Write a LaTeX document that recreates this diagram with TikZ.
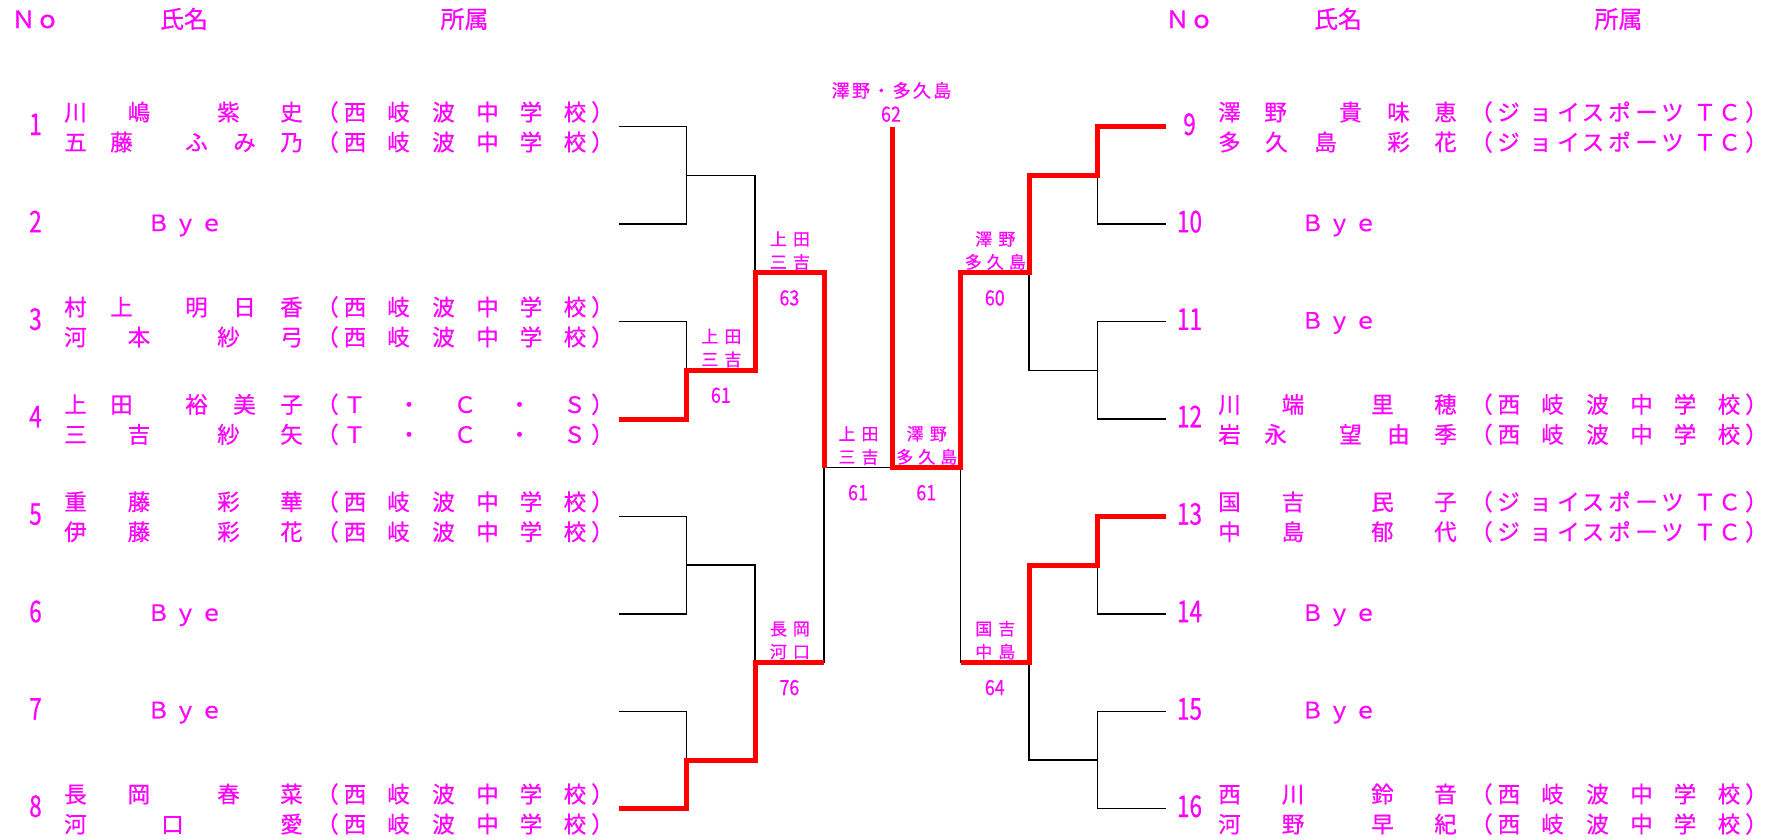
\documentclass[tikz,border=0pt]{standalone}
\usepackage{fontspec}
\newfontfamily\jpf[FakeBold=0.6]{Noto Sans CJK JP}
\newfontfamily\jpnum[FakeStretch=0.75,FakeBold=0.5]{Noto Sans CJK JP}
\newfontfamily\jpsc[FakeStretch=0.85,FakeBold=0.4]{Noto Sans CJK JP}
\definecolor{mag}{RGB}{255,0,255}
\definecolor{wred}{RGB}{255,0,0}
\newcommand\glp[2]{\makebox[0pt][l]{\hspace*{#1pt}\makebox[0pt][c]{#2}}}
\newcommand\nfour[4]{\glp{75}{#1}\glp{138.5}{#2}\glp{228}{#3}\glp{291}{#4}}
\newcommand\nfive[5]{\glp{75}{#1}\glp{121}{#2}\glp{196}{#3}\glp{244}{#4}\glp{291}{#5}}
\newcommand\affS{\glp{327}{（}\glp{354.5}{西}\glp{398}{岐}\glp{443}{波}\glp{487}{中}\glp{530.5}{学}\glp{574.5}{校}\glp{602}{）}}
\newcommand\affT{\glp{327}{（}\glp{354}{Ｔ}\glp{408.5}{・}\glp{464.5}{Ｃ}\glp{519}{・}\glp{574}{Ｓ}\glp{602}{）}}
\newcommand\affJ{\glp{327}{（}\glp{354}{ジ}\glp{386}{ョ}\glp{414}{イ}\glp{438.5}{ス}\glp{465}{ポ}\glp{492}{ー}\glp{518}{ツ}\glp{550.5}{Ｔ}\glp{575}{Ｃ}\glp{602}{）}}
\newcommand\byeL{\glp{158}{Ｂ}\glp{185}{ｙ}\glp{211}{ｅ}}
\newcommand\lpair[2]{\glp{-11.5}{#1}\glp{11.5}{#2}}
\newcommand\ltrip[3]{\glp{-22}{#1}\glp{0}{#2}\glp{22}{#3}}
\begin{document}
\begin{tikzpicture}[x=1pt,y=-1pt,
  txt/.style={inner sep=0pt,outer sep=0pt,text=mag,anchor=base west},
  nm/.style={txt,font={\jpf\fontsize{22.5pt}{22.5pt}\selectfont}},
  hd/.style={txt,anchor=base,font={\jpf\fontsize{24pt}{24pt}\selectfont}},
  pn/.style={inner sep=0pt,text=mag,anchor=base,font={\jpnum\fontsize{30pt}{30pt}\selectfont}},
  lb/.style={txt,font={\jpf\fontsize{17pt}{17pt}\selectfont}},
  tl/.style={txt,font={\jpf\fontsize{18pt}{18pt}\selectfont}},
  sc/.style={inner sep=0pt,text=mag,anchor=base,font={\jpsc\fontsize{21pt}{21pt}\selectfont}},
  br/.style={line width=1.5pt,black},
  wn/.style={line width=5pt,wred,line join=miter},
]
\fill[white] (0,0) rectangle (1771,839);
\useasboundingbox (0,0) rectangle (1771,839);

% columns and rows
\coordinate (xLs) at (618.5,0); \coordinate (xL1) at (686.7,0);
\coordinate (xL2) at (755,0);   \coordinate (xL3) at (824,0);
\coordinate (xC)  at (892,0);
\coordinate (xR3) at (960.6,0); \coordinate (xR2) at (1029,0);
\coordinate (xR1) at (1097.5,0);\coordinate (xRe) at (1166,0);
\coordinate (y1) at (0,126.7); \coordinate (y2) at (0,224.1);
\coordinate (y3) at (0,321.6); \coordinate (y4) at (0,419);
\coordinate (y5) at (0,516.4); \coordinate (y6) at (0,613.9);
\coordinate (y7) at (0,711.3); \coordinate (y8) at (0,808.7);
\coordinate (m1) at (0,175.4); \coordinate (m2) at (0,370.3);
\coordinate (m3) at (0,565.2); \coordinate (m4) at (0,760);
\coordinate (q1) at (0,272.9); \coordinate (q2) at (0,662.6);
\coordinate (ys) at (0,467.7);

% black bracket, left
\draw[br] (xLs|-y1) -- (xL1|-y1) -- (xL1|-y2) -- (xLs|-y2);
\draw[br] (xLs|-y3) -- (xL1|-y3) -- (xL1|-y4) -- (xLs|-y4);
\draw[br] (xLs|-y5) -- (xL1|-y5) -- (xL1|-y6) -- (xLs|-y6);
\draw[br] (xLs|-y7) -- (xL1|-y7) -- (xL1|-y8) -- (xLs|-y8);
\draw[br] (xL1|-m1) -- (xL2|-m1) -- (xL2|-m2) -- (xL1|-m2);
\draw[br] (xL1|-m3) -- (xL2|-m3) -- (xL2|-m4) -- (xL1|-m4);
\draw[br] (xL2|-q1) -- (xL3|-q1) -- (xL3|-q2) -- (xL2|-q2);
\draw[br] (xL3|-ys) -- (xR3|-ys);
% black bracket, right
\draw[br] (xRe|-y1) -- (xR1|-y1) -- (xR1|-y2) -- (xRe|-y2);
\draw[br] (xRe|-y3) -- (xR1|-y3) -- (xR1|-y4) -- (xRe|-y4);
\draw[br] (xRe|-y5) -- (xR1|-y5) -- (xR1|-y6) -- (xRe|-y6);
\draw[br] (xRe|-y7) -- (xR1|-y7) -- (xR1|-y8) -- (xRe|-y8);
\draw[br] (xR1|-m1) -- (xR2|-m1) -- (xR2|-m2) -- (xR1|-m2);
\draw[br] (xR1|-m3) -- (xR2|-m3) -- (xR2|-m4) -- (xR1|-m4);
\draw[br] (xR2|-q1) -- (xR3|-q1) -- (xR3|-q2) -- (xR2|-q2);

% winners
\draw[wn] (xLs|-y4) -- (xL1|-y4) -- (xL1|-m2) -- (xL2|-m2) -- (xL2|-q1) -- (xL3|-q1) -- (xL3|-ys);
\draw[wn] (xLs|-y8) -- (xL1|-y8) -- (xL1|-m4) -- (xL2|-m4) -- (xL2|-q2) -- (xL3|-q2);
\draw[wn] (xC|-y1) -- (xC|-ys) -- (xR3|-ys) -- (xR3|-q1) -- (xR2|-q1) -- (xR2|-m1) -- (xR1|-m1) -- (xR1|-y1) -- (xRe|-y1);
\draw[wn] (xR3|-q2) -- (xR2|-q2) -- (xR2|-m3) -- (xR1|-m3) -- (xR1|-y5) -- (xRe|-y5);

% headers
\node[hd] (hNL) at (35.5,28) {Ｎｏ};
\node[hd] (hSL) at (184,28) {氏名};
\node[hd] (hAL) at (464.5,28) {所属};
\node[hd] (hNR) at (1189.5,28) {Ｎｏ};
\node[hd] (hSR) at (1338,28) {氏名};
\node[hd] (hAR) at (1618.5,28) {所属};

% player numbers
\node[pn] (k1) at (35.5,135) {1};
\node[pn] (k2) at (35.5,232.4) {2};
\node[pn] (k3) at (35.5,329.9) {3};
\node[pn] (k4) at (35.5,427.3) {4};
\node[pn] (k5) at (35.5,524.7) {5};
\node[pn] (k6) at (35.5,622.2) {6};
\node[pn] (k7) at (35.5,719.6) {7};
\node[pn] (k8) at (35.5,817) {8};
\node[pn] (k9) at (1189.5,135) {9};
\node[pn] (k10) at (1189.5,232.4) {10};
\node[pn] (k11) at (1189.5,329.9) {11};
\node[pn] (k12) at (1189.5,427.3) {12};
\node[pn] (k13) at (1189.5,524.7) {13};
\node[pn] (k14) at (1189.5,622.2) {14};
\node[pn] (k15) at (1189.5,719.6) {15};
\node[pn] (k16) at (1189.5,817) {16};

% left names
\node[nm] (p1a) at (0,120.6) {\nfour{川}{嶋}{紫}{史}\affS};
\node[nm] (p1b) at (0,150.6) {\nfive{五}{藤}{ふ}{み}{乃}\affS};
\node[nm] (p2) at (0,231.1) {\byeL};
\node[nm] (p3a) at (0,315.5) {\nfive{村}{上}{明}{日}{香}\affS};
\node[nm] (p3b) at (0,345.5) {\nfour{河}{本}{紗}{弓}\affS};
\node[nm] (p4a) at (0,412.9) {\nfive{上}{田}{裕}{美}{子}\affT};
\node[nm] (p4b) at (0,442.9) {\nfour{三}{吉}{紗}{矢}\affT};
\node[nm] (p5a) at (0,510.3) {\nfour{重}{藤}{彩}{華}\affS};
\node[nm] (p5b) at (0,540.3) {\nfour{伊}{藤}{彩}{花}\affS};
\node[nm] (p6) at (0,620.9) {\byeL};
\node[nm] (p7) at (0,718.3) {\byeL};
\node[nm] (p8a) at (0,802.6) {\nfour{長}{岡}{春}{菜}\affS};
\node[nm] (p8b) at (0,832.6) {\glp{75}{河}\glp{172}{口}\glp{291}{愛}\affS};

% right names
\node[nm] (p9a) at (1154,120.6) {\nfive{澤}{野}{貴}{味}{恵}\affJ};
\node[nm] (p9b) at (1154,150.6) {\glp{75}{多}\glp{122}{久}\glp{171}{島}\glp{244}{彩}\glp{291}{花}\affJ};
\node[nm] (p10) at (1154,231.1) {\byeL};
\node[nm] (p11) at (1154,328.6) {\byeL};
\node[nm] (p12a) at (1154,412.9) {\nfour{川}{端}{里}{穂}\affS};
\node[nm] (p12b) at (1154,442.9) {\nfive{岩}{永}{望}{由}{季}\affS};
\node[nm] (p13a) at (1154,510.3) {\nfour{国}{吉}{民}{子}\affJ};
\node[nm] (p13b) at (1154,540.3) {\nfour{中}{島}{郁}{代}\affJ};
\node[nm] (p14) at (1154,620.9) {\byeL};
\node[nm] (p15) at (1154,718.3) {\byeL};
\node[nm] (p16a) at (1154,802.6) {\nfour{西}{川}{鈴}{音}\affS};
\node[nm] (p16b) at (1154,832.6) {\nfour{河}{野}{早}{紀}\affS};

% match labels
\node[lb] (aA1) at (720.9,342.8) {\lpair{上}{田}};
\node[lb] (aA2) at (720.9,365.8) {\lpair{三}{吉}};
\node[sc] (aA3) at (720.9,402.8) {61};
\node[lb] (aB1) at (789.4,245.4) {\lpair{上}{田}};
\node[lb] (aB2) at (789.4,268.4) {\lpair{三}{吉}};
\node[sc] (aB3) at (789.4,305.4) {63};
\node[lb] (aC1) at (789.4,635.1) {\lpair{長}{岡}};
\node[lb] (aC2) at (789.4,658.1) {\lpair{河}{口}};
\node[sc] (aC3) at (789.4,695.1) {76};
\node[lb] (aD1) at (858,440.2) {\lpair{上}{田}};
\node[lb] (aD2) at (858,463.2) {\lpair{三}{吉}};
\node[sc] (aD3) at (858,500.2) {61};
\node[lb] (aE1) at (926.3,440.2) {\lpair{澤}{野}};
\node[lb] (aE2) at (926.3,463.2) {\ltrip{多}{久}{島}};
\node[sc] (aE3) at (926.3,500.2) {61};
\node[lb] (aF1) at (994.8,245.4) {\lpair{澤}{野}};
\node[lb] (aF2) at (994.8,268.4) {\ltrip{多}{久}{島}};
\node[sc] (aF3) at (994.8,305.4) {60};
\node[lb] (aG1) at (994.8,635.1) {\lpair{国}{吉}};
\node[lb] (aG2) at (994.8,658.1) {\lpair{中}{島}};
\node[sc] (aG3) at (994.8,695.1) {64};
\node[tl] (aT1) at (891,97.3) {\glp{-50.8}{澤}\glp{-30.5}{野}\glp{-10.2}{・}\glp{10.2}{多}\glp{30.5}{久}\glp{50.8}{島}};
\node[sc] (aT2) at (891,121.7) {62};
\end{tikzpicture}
\end{document}
